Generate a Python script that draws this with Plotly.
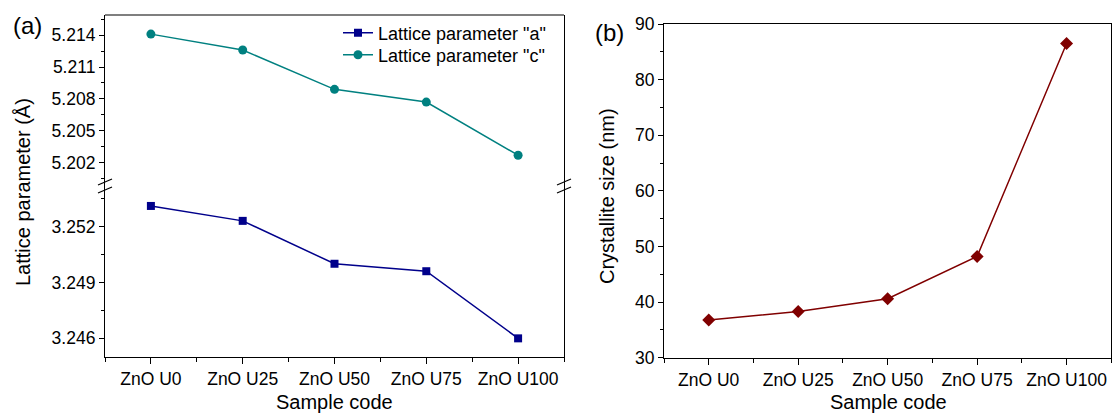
import plotly.graph_objects as go

# ---------------- data ----------------
categories = ["ZnO U0", "ZnO U25", "ZnO U50", "ZnO U75", "ZnO U100"]
lattice_a = [3.2531, 3.2523, 3.2500, 3.2496, 3.2460]
lattice_c = [5.2141, 5.2126, 5.2089, 5.2077, 5.2027]
crystallite_size = [36.8, 38.3, 40.6, 48.2, 86.5]

W, H = 1112, 414
FONT = "Arial, Liberation Sans, sans-serif"
BLACK = "#000000"

def px(x):
    return x / W

def py(y):
    return 1 - y / H

idx = list(range(len(categories)))
minor_x = [i - 0.5 for i in range(len(categories) + 1)]

fig = go.Figure()

fig.add_trace(go.Scatter(
    x=idx, y=lattice_a, xaxis="x", yaxis="y", mode="lines+markers",
    name='Lattice parameter "a"', legend="legend",
    line=dict(color="#00008B", width=1.5),
    marker=dict(symbol="square", size=8, color="#00008B"),
))
fig.add_trace(go.Scatter(
    x=idx, y=lattice_c, xaxis="x", yaxis="y2", mode="lines+markers",
    name='Lattice parameter "c"', legend="legend2",
    line=dict(color="#008080", width=1.5),
    marker=dict(symbol="circle", size=9, color="#008080"),
))
fig.add_trace(go.Scatter(
    x=idx, y=crystallite_size, xaxis="x2", yaxis="y3", mode="lines+markers",
    name="Crystallite size", showlegend=False,
    line=dict(color="#800000", width=1.5),
    marker=dict(symbol="diamond", size=10, color="#800000"),
))

# panel geometry (pixels)
L_left, L_right, L_top, L_bot, L_brk = 105, 564, 15, 357, 186
R_left, R_right, R_top, R_bot = 664, 1111.3, 24, 357.7

tickfont = dict(family=FONT, size=17.5, color=BLACK)

xcommon = dict(
    range=[-0.5, len(categories) - 0.5], tickmode="array", tickvals=idx,
    ticktext=categories, ticks="outside", ticklen=6, tickwidth=1,
    tickcolor=BLACK, showline=True, linecolor=BLACK, linewidth=1.2,
    showgrid=False, zeroline=False, tickfont=tickfont, automargin=False,
    minor=dict(tickvals=minor_x, ticks="outside", ticklen=4,
               tickcolor=BLACK, showgrid=False),
)
ycommon = dict(
    ticks="outside", ticklen=5, tickwidth=1, tickcolor=BLACK,
    showline=True, linecolor=BLACK, linewidth=1.2, mirror=True,
    showgrid=False, zeroline=False, tickfont=tickfont, automargin=False,
)

legfont = dict(family=FONT, size=18, color=BLACK)

fig.update_layout(
    width=W, height=H,
    margin=dict(l=0, r=0, t=0, b=0),
    paper_bgcolor="white", plot_bgcolor="white",
    font=dict(family=FONT, size=17, color=BLACK),
    xaxis=dict(domain=[px(L_left), px(L_right)], anchor="y", **xcommon),
    yaxis=dict(domain=[py(L_bot), py(L_brk)], anchor="x",
               range=[3.2450, 3.25417], tick0=3.246, dtick=0.003,
               tickformat=".3f",
               minor=dict(tick0=3.246, dtick=0.0015, ticks="outside",
                          ticklen=3, tickcolor=BLACK, showgrid=False),
               **ycommon),
    yaxis2=dict(domain=[py(L_brk), py(L_top)], anchor="x",
                range=[5.1998, 5.2159], tick0=5.202, dtick=0.003,
                tickformat=".3f",
                minor=dict(tick0=5.202, dtick=0.0015, ticks="outside",
                           ticklen=3, tickcolor=BLACK, showgrid=False),
                **ycommon),
    xaxis2=dict(domain=[px(R_left), px(R_right)], anchor="y3", mirror=True,
                **xcommon),
    yaxis3=dict(domain=[py(R_bot), py(R_top)], anchor="x2",
                range=[30, 90], tick0=30, dtick=10,
                minor=dict(tick0=30, dtick=5, ticks="outside",
                           ticklen=3, tickcolor=BLACK, showgrid=False),
                **ycommon),
    legend=dict(x=px(338), y=py(33), xanchor="left", yanchor="middle",
                bgcolor="rgba(0,0,0,0)", font=legfont),
    legend2=dict(x=px(338), y=py(55), xanchor="left", yanchor="middle",
                 bgcolor="rgba(0,0,0,0)", font=legfont),
    showlegend=True,
)

# top frame line of left panel
shapes = [dict(type="line", xref="x domain", yref="y2 domain",
               x0=0, x1=1, y0=1, y1=1,
               line=dict(color=BLACK, width=1.2))]
# axis break marks
for xb in (L_left, L_right):
    for dy in (-4, 4):
        shapes.append(dict(type="line", xref="paper", yref="paper",
                           x0=px(xb - 7), y0=py(L_brk + dy + 3),
                           x1=px(xb + 7), y1=py(L_brk + dy - 3),
                           line=dict(color=BLACK, width=1.2)))
fig.update_layout(shapes=shapes)

def label(text, x, y, size, angle=0):
    return dict(text=text, x=px(x), y=py(y), xref="paper", yref="paper",
                xanchor="center", yanchor="middle", textangle=angle,
                showarrow=False, font=dict(family=FONT, size=size, color=BLACK))

ann = [
    label("(a)", 27, 25, 24),
    label("(b)", 609, 32, 24),
    label("Lattice parameter (Å)", 23, 192, 20, -90),
    label("Crystallite size (nm)", 607, 196, 20, -90),
    label("Sample code", 334, 402, 20),
    label("Sample code", 888, 402, 20),
]
fig.update_layout(annotations=ann)

fig.write_html(
    "out.html",
    config={"displayModeBar": False},
    post_script="document.body.style.margin='0';"
                "document.body.style.overflow='hidden';",
)
